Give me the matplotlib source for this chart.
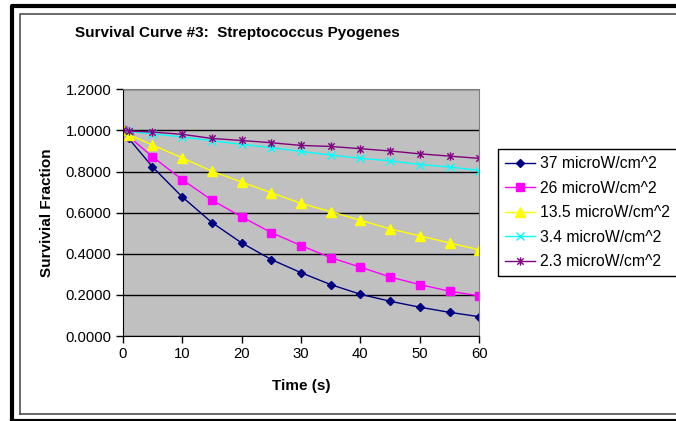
import matplotlib
matplotlib.use('Agg')
import matplotlib.pyplot as plt
from matplotlib.path import Path
from matplotlib.lines import Line2D

plt.rcParams['font.family'] = ['Liberation Sans', 'DejaVu Sans']

# 시간 (s)
time = [0, 1, 5, 10, 15, 20, 25, 30, 35, 40, 45, 50, 55, 60]

# 조도별 생존율
s37 = [1.0, 0.961, 0.823, 0.677, 0.552, 0.453, 0.372, 0.308, 0.250, 0.203, 0.169, 0.140, 0.115, 0.094]
s26 = [1.0, 0.971, 0.872, 0.761, 0.661, 0.580, 0.503, 0.440, 0.381, 0.335, 0.287, 0.250, 0.218, 0.195]
s135 = [1.0, 0.980, 0.929, 0.867, 0.802, 0.749, 0.697, 0.645, 0.605, 0.563, 0.521, 0.487, 0.453, 0.419]
s34 = [1.0, 0.995, 0.984, 0.968, 0.950, 0.932, 0.916, 0.898, 0.880, 0.864, 0.852, 0.834, 0.822, 0.805]
s23 = [1.0, 0.997, 0.992, 0.981, 0.961, 0.951, 0.940, 0.927, 0.922, 0.911, 0.900, 0.886, 0.875, 0.864]

labels = ['37 microW/cm^2', '26 microW/cm^2', '13.5 microW/cm^2', '3.4 microW/cm^2', '2.3 microW/cm^2']
yticks = [0.0, 0.2, 0.4, 0.6, 0.8, 1.0, 1.2]
xticks = [0, 10, 20, 30, 40, 50, 60]

# 엑셀 스타일 별표 마커 (x + 세로선)
star = Path([(-1, -1), (1, 1), (-1, 1), (1, -1), (0, -1.3), (0, 1.3)],
            [Path.MOVETO, Path.LINETO, Path.MOVETO, Path.LINETO, Path.MOVETO, Path.LINETO])

fig = plt.figure(figsize=(6.76, 4.21), dpi=100)
W, H = 676, 421
ax = fig.add_axes([122.7 / W, 1 - 336 / H, (479.3 - 122.7) / W, (336 - 89.3) / H])
ax.set_facecolor('#C0C0C0')

ax.plot(time, s37, color='#000080', lw=1, marker='D', ms=4.5, mfc='#000080', mec='#000080', label=labels[0])
ax.plot(time, s26, color='#FF00FF', lw=1, marker='s', ms=5.5, mfc='#FF00FF', mec='#FF00FF', label=labels[1])
ax.plot(time, s135, color='#FFFF00', lw=1, marker='^', ms=6.5, mfc='#FFFF00', mec='#FFFF00', label=labels[2])
ax.plot(time, s34, color='#00FFFF', lw=1, marker='x', ms=5.5, mew=1, mec='#00FFFF', label=labels[3])
ax.plot(time, s23, color='#800080', lw=1, marker=star, ms=6, mew=1, mec='#800080', mfc='none', label=labels[4])

ax.set_xlim(0, 60)
ax.set_ylim(0, 1.2)
ax.set_xticks(xticks)
ax.set_yticks(yticks)
ax.set_yticklabels(['%.4f' % v for v in yticks])
ax.yaxis.grid(True, color='black', lw=1)
ax.set_axisbelow(True)
ax.tick_params(labelsize=10.7, length=5, width=1, direction='out', color='black', pad=3)
ax.spines['top'].set_color('#808080')
ax.spines['right'].set_color('#808080')
ax.spines['left'].set_color('black')
ax.spines['bottom'].set_color('black')

ax.set_xlabel('Time (s)', fontsize=11, fontweight='bold', labelpad=13)
ax.set_ylabel('Survivial Fraction', fontsize=11, fontweight='bold', labelpad=8)

fig.text(237 / W, 1 - 33 / H, 'Survival Curve #3:  Streptococcus Pyogenes',
         ha='center', va='center', fontsize=11, fontweight='bold')

leg = ax.legend(loc='upper left', bbox_to_anchor=(498.3 / W, 1 - 149.3 / H), bbox_transform=fig.transFigure,
                borderaxespad=0, fancybox=False, framealpha=1, edgecolor='black', fontsize=11.3,
                handlelength=1.9, handletextpad=0.3, labelspacing=0.6, borderpad=0.45)
leg.get_frame().set_linewidth(1)

# 바깥 테두리
def fl(xs, ys, lw, c):
    fig.add_artist(Line2D([x / W for x in xs], [1 - y / H for y in ys], lw=lw, color=c,
                          transform=fig.transFigure, solid_capstyle='projecting'))

fl([12, 12, 700], [421, 5.5, 5.5], 3, 'black')
fl([12, 700], [420.5, 420.5], 3, 'black')
fl([19.5, 19.5, 700], [413.5, 13.5, 13.5], 1.1, '#404040')
fl([19.5, 700], [413.5, 413.5], 1.1, '#404040')

fig.savefig('out.png', dpi=100)
